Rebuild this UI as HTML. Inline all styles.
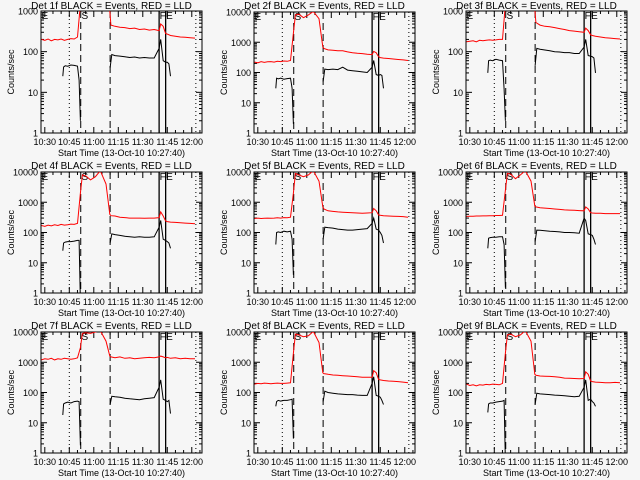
<!DOCTYPE html>
<html><head><meta charset="utf-8"><style>
html,body{margin:0;padding:0;background:#f6f6f6;}
svg{display:block;font-family:"Liberation Sans",sans-serif;}
</style></head><body>
<svg id="chart" width="640" height="480" viewBox="0 0 640 480"></svg>
<script>
const tRed = [-2,0,2,4,6,8,10,12,14,16,18,20,21.8,23,25,28,31,34,37.5,39.8,40.5,43,46,49,52,55,58,61,64,67,70,71,72.5,74,75,77,80,83,86,89,92];
const tBlack = [11,11.5,12.5,14,16,18,20,21,21.8,30,40,41,43,46,49,52,55,58,61,64,67,70,71,72.5,74,75,76,77];
const red1 = [200,190,205,185,200,195,205,190,200,210,205,230,1500,5000,8000,6000,8000,10000,5000,1000,450,420,400,390,370,380,350,360,340,350,330,480,420,280,270,250,240,230,225,220,215];
const red2 = [220,210,230,215,225,230,220,235,230,240,235,250,2000,8000,8500,6500,8000,10500,6000,700,620,560,540,520,520,480,450,430,420,400,390,500,450,330,310,300,290,280,270,260,250];
const red3 = [175,180,185,175,190,185,190,195,190,195,200,200,1500,5000,8000,6000,8000,10000,5000,1100,520,450,420,410,390,370,350,330,320,310,300,380,330,260,250,240,230,220,215,210,205];
const red4 = [170,160,175,165,180,170,185,175,180,190,185,200,2000,8000,7500,5500,7000,11000,4000,400,360,350,320,310,300,300,300,295,300,300,310,480,350,240,230,220,215,210,205,200,195];
const red5 = [290,300,290,295,300,295,300,305,300,310,305,320,2000,9000,8000,7000,8000,11000,5000,700,600,520,500,480,470,460,450,440,430,440,450,620,520,380,370,360,350,345,340,335,320];
const red6 = [340,345,345,350,350,355,355,360,360,365,365,370,2500,9000,8500,6000,8000,11000,5000,750,700,660,640,620,600,580,560,550,540,530,520,700,600,450,440,430,430,420,420,420,420];
const red7 = [1200,1300,1250,1350,1200,1300,1250,1350,1300,1250,1300,1400,3000,9000,9500,9000,10000,11000,5000,1600,1500,1400,1500,1350,1400,1300,1350,1400,1450,1400,1500,1600,1500,1400,1450,1350,1400,1300,1350,1300,1300];
const red8 = [190,200,195,205,200,195,200,205,200,200,205,210,2000,8500,8000,7000,7500,10500,4500,450,420,400,380,370,360,350,340,330,320,320,320,530,450,270,260,250,240,235,230,220,210];
const red9 = [190,170,180,165,180,175,185,180,190,185,180,200,2000,8000,8500,7000,8000,11000,5000,400,370,350,345,340,330,320,300,295,290,285,290,480,400,240,230,220,215,210,210,215,210];
const black1 = [25,42,45,44,47,46,44,20,2,null,40,85,80,78,75,72,74,70,72,70,70,120,200,60,55,55,50,25];
const black2 = [30,65,62,65,60,63,65,30,2,null,50,130,125,130,125,150,120,115,110,105,100,150,250,85,80,85,80,30];
const black3 = [30,60,62,60,65,62,60,12,2,null,45,120,115,110,105,100,98,95,95,90,90,130,200,80,78,75,70,30];
const black4 = [25,45,48,50,50,52,55,55,0.5,null,45,90,85,80,75,72,70,72,70,70,72,150,250,60,55,50,45,30];
const black5 = [40,100,105,100,110,105,110,60,4,null,60,150,145,140,130,125,120,120,125,130,135,200,300,130,120,100,80,45];
const black6 = [30,65,68,70,70,72,72,40,1.5,null,50,120,118,115,110,108,105,100,100,98,95,300,250,90,85,80,60,40];
const black7 = [18,42,45,48,45,50,52,50,1.8,null,40,75,72,70,65,62,60,58,62,65,68,150,260,60,55,50,55,20];
const black8 = [35,50,55,52,55,55,58,60,3,null,50,110,100,95,90,88,85,85,82,80,80,200,330,80,75,70,55,40];
const black9 = [22,42,45,45,48,50,52,55,0.5,null,40,95,90,88,85,82,80,78,75,72,75,150,260,55,60,50,45,35];
const yMaxes = [1000,10000,1000,10000,10000,10000,10000,10000,10000];
const xTickLabels = ["10:30","10:45","11:00","11:15","11:30","11:45","12:00"];
const markerTimes = [15,22,40,70,74,92.5];
const markerStyles = ["dot","dash","dash","solid","solid","dot"];
const reds=[red1,red2,red3,red4,red5,red6,red7,red8,red9];
const blacks=[black1,black2,black3,black4,black5,black6,black7,black8,black9];

const NS="http://www.w3.org/2000/svg";
const svg=document.getElementById('chart');
function mk(tag,attrs,parent){const e=document.createElementNS(NS,tag);for(const k in attrs)e.setAttribute(k,attrs[k]);(parent||svg).appendChild(e);return e;}
const colL=[41,254,466], W=161, TOP=12, BOT=133;
for(let p=0;p<9;p++){
  const ox=colL[p%3], oy=Math.floor(p/3)*160;
  const g=mk('g',{});
  
  
  const yMax=yMaxes[p], dec=Math.log10(yMax);
  const top=oy+(yMax===1000?11:TOP), bot=oy+BOT;
  const xs=t=>ox+(t+2.33)*1.633;
  const ys=v=>bot-(Math.log10(v)/dec)*(bot-top);
  const cid='clip'+p;
  const cp=mk('clipPath',{id:cid},g);mk('rect',{x:ox,y:top,width:W,height:bot-top},cp);
  // title
  const ti=mk('text',{x:ox+W/2-10,y:oy+9,'font-size':10,'text-anchor':'middle',fill:'#000'},g);
  ti.textContent='Det '+(p+1)+'f BLACK = Events, RED = LLD';
  
  
  // axis box
  const box=mk('rect',{x:ox,y:top,width:W,height:bot-top,fill:'none',stroke:'#000','stroke-width':1},g);
  
  
  // y ticks
  for(let d=0;d<=dec;d++){
    const v=Math.pow(10,d),y=ys(v);
    mk('line',{x1:ox,x2:ox+6,y1:y,y2:y,stroke:'#000'},g);
    mk('line',{x1:ox+W-6,x2:ox+W,y1:y,y2:y,stroke:'#000'},g);
    const tl=mk('text',{x:ox-3,y:y+3.5,'font-size':9,'text-anchor':'end'},g);
    tl.textContent=String(v);
    
    
    if(d<dec)for(let m=2;m<10;m++){const yy=ys(v*m);
      mk('line',{x1:ox,x2:ox+3,y1:yy,y2:yy,stroke:'#000'},g);
      mk('line',{x1:ox+W-3,x2:ox+W,y1:yy,y2:yy,stroke:'#000'},g);}
  }
  const yt=mk('text',{x:0,y:0,'font-size':9,'text-anchor':'middle',transform:`translate(${ox-27},${(top+bot)/2}) rotate(-90)`},g);
  yt.textContent='Counts/sec';
  
  
  // x ticks
  for(let i=0;i<xTickLabels.length;i++){
    const x=xs(i*15);
    mk('line',{x1:x,x2:x,y1:bot,y2:bot-6,stroke:'#000'},g);
    mk('line',{x1:x,x2:x,y1:top,y2:top+6,stroke:'#000'},g);
    const xl=mk('text',{x:x,y:oy+145,'font-size':9,'text-anchor':'middle'},g);
    xl.textContent=xTickLabels[i];
    
    
  }
  for(let t=-0;t<=96;t+=5){if(t%15===0)continue;const x=xs(t);
    mk('line',{x1:x,x2:x,y1:bot,y2:bot-3,stroke:'#000'},g);mk('line',{x1:x,x2:x,y1:top,y2:top+3,stroke:'#000'},g);}
  const xt=mk('text',{x:ox+W/2,y:oy+156,'font-size':9,'text-anchor':'middle'},g);
  xt.textContent='Start Time (13-Oct-10 10:27:40)';
  
  
  // markers
  for(let i=0;i<markerTimes.length;i++){
    const x=xs(markerTimes[i]),s=markerStyles[i];
    const ml=mk('line',{x1:x,x2:x,y1:top,y2:bot,stroke:'#000','stroke-width':s==='solid'?1.3:1,'stroke-dasharray':s==='dot'?'1,3':(s==='dash'?'7,4':'none')},g);
    
    
  }
  const labs=[['E',xs(-2)],['S',xs(22.5)],['F',xs(70.3)],['E',xs(74.3)]];
  labs.forEach(l=>{const tx=mk('text',{x:l[1],y:top+8,'font-size':10},g);tx.textContent=l[0];
    
    });
  // series
  function path(ts,vs){let d='',pen=false;for(let i=0;i<ts.length;i++){const v=vs[i];if(v==null){pen=false;continue;}
    d+=(pen?'L':'M')+xs(ts[i]).toFixed(1)+' '+ys(v).toFixed(1)+' ';pen=true;}return d;}
  const rp=mk('path',{d:path(tRed,reds[p]),fill:'none',stroke:'#ff0000','stroke-width':1,'clip-path':`url(#${cid})`},g);
  
  
  const bp=mk('path',{d:path(tBlack,blacks[p]),fill:'none',stroke:'#000','stroke-width':1,'clip-path':`url(#${cid})`},g);
  
  
}
</script>
</body></html>
